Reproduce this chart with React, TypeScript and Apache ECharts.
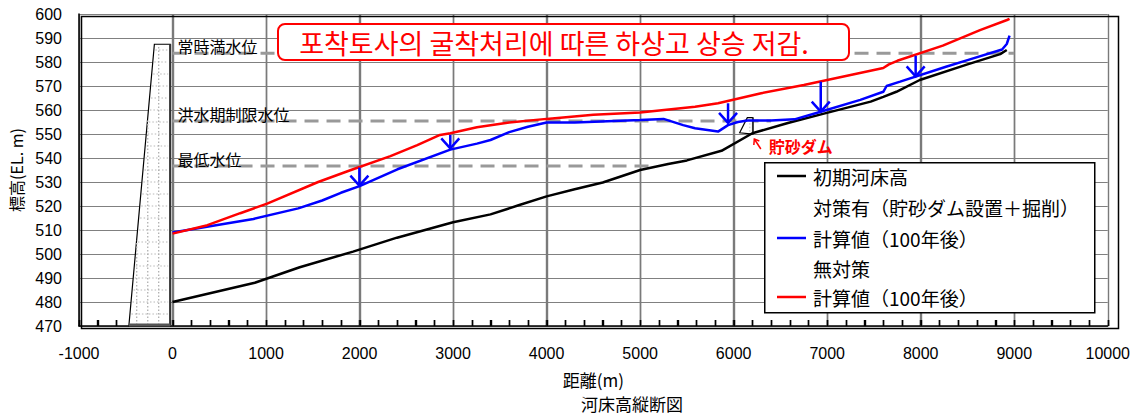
import React, { useEffect, useRef } from "react";
import * as echarts from "echarts";

// ---- axes ----
const X_MIN = -1000;
const X_MAX = 10000;
const X_STEP = 1000;
const X_MINOR_STEP = 200;
const Y_MIN = 470;
const Y_MAX = 600;
const Y_STEP = 10;

// ---- 初期河床高 ----
const bedX = [0, 880, 1360, 1930, 2400, 3000, 3400, 3700, 4000, 4300, 4600, 5000, 5300, 5500, 5870, 6200, 6580, 6975, 7465, 7600, 7740, 7990, 8500, 8850, 8920];
const bedY = [480, 488, 494.5, 501, 506.8, 513.2, 516.5, 520.3, 524, 527, 529.8, 535, 537.5, 539, 543, 550.3, 554.6, 558.6, 563.5, 565.5, 567.6, 572.5, 579, 583.3, 585];

// ---- 対策有 計算値（100年後） ----
const withX = [0, 865, 1344, 1600, 1800, 2000, 2405, 2970, 3255, 3400, 3600, 3800, 4000, 4300, 5000, 5250, 5460, 5587, 5833, 5940, 6045, 6150, 6400, 6650, 6930, 7354, 7600, 7635, 7780, 8270, 8500, 8870, 8920, 8950];
const withY = [509, 514.6, 519, 522.3, 525.5, 528.3, 535.3, 543.5, 546, 547.5, 550.8, 553, 554.8, 554.8, 555.8, 556.3, 553.7, 552.4, 551, 553.7, 555, 555.6, 555.6, 556.1, 559.3, 564.2, 567.6, 570, 571.8, 578, 580.8, 585.2, 587.5, 591];

// ---- 無対策 計算値（100年後） ----
const noX = [0, 373, 724, 1012, 1557, 1908, 2330, 2617, 2860, 2970, 3255, 3600, 4000, 4500, 5000, 5587, 5833, 6294, 6750, 7250, 7600, 7660, 7750, 8236, 8634, 8923, 8950];
const noY = [508.5, 512, 517, 521, 530, 535, 540.8, 545.4, 549.6, 550.3, 552.8, 554.8, 556.3, 558, 559, 561.4, 562.8, 567, 570.4, 574.6, 577.5, 579, 580.5, 586.8, 593.3, 597.5, 598];

// ---- water levels ----
const levelNames = ["常時満水位", "洪水期制限水位", "最低水位"];
const levelValues = [583.6, 555.4, 536.7];
const levelStart = [0, 0, 0];
const levelEnd = [9000, 6400, 5100];

// ---- arrows (reduction) ----
const arrowX = [1998, 2970, 5940, 6931, 7946];
const arrowTop = [536, 549.6, 562.8, 571.8, 582.6];
const arrowBottom = [528.5, 544, 554.6, 559.3, 574];

// ---- dams ----
const damX = [-467, -194, -25, -25];
const damY = [470, 587.4, 587.4, 470];
const sabodamX = [6064, 6146, 6205, 6205];
const sabodamY = [550.5, 556.8, 556.8, 550];
const sabodamLabel = "貯砂ダム";

// ---- legend / title ----
const legendLabels = ["初期河床高", "対策有（貯砂ダム設置＋掘削）", "計算値（100年後）", "無対策", "計算値（100年後）"];
const legendColors = ["#000000", "", "#0000FF", "", "#FF0000"];
const titleText = "포착토사의 굴착처리에 따른 하상고 상승 저감.";
const xName = "距離(m)";
const yName = "標高(EL. m)";
const caption = "河床高縦断図";

const JP = "'Noto Sans CJK JP', sans-serif";
const KR = "'Noto Sans CJK KR', sans-serif";
const NUM = "'Liberation Sans', Arial, sans-serif";

function zip(xs: number[], ys: number[]) {
  return xs.map((x, i) => [x, ys[i]]);
}

const xTickValues: number[] = [];
for (let v = X_MIN; v <= X_MAX; v += X_MINOR_STEP) xTickValues.push(v);

function renderDam(_params: any, api: any) {
  const pts = damX.map((x, i) => api.coord([x, damY[i]]));
  const [bl, tl, tr, br] = pts;
  const children: any[] = [
    { type: "polygon", shape: { points: pts }, style: { fill: "#ffffff", stroke: "#000", lineWidth: 1.2 } },
  ];
  for (let e = 475; e < 587; e += 5) {
    const y = api.coord([0, e])[1];
    const t = (bl[1] - y) / (bl[1] - tl[1]);
    const xl = bl[0] + t * (tl[0] - bl[0]);
    children.push({
      type: "line",
      shape: { x1: xl + 1.5, y1: y, x2: br[0] - 2, y2: y },
      style: { stroke: "#b8b8b8", lineWidth: 1, lineDash: [1.5, 2] },
    });
  }
  for (const vx of [-383, -265, -148]) {
    const x = api.coord([vx, 0])[0];
    const t = (x - bl[0]) / (tl[0] - bl[0]);
    const yTop = Math.max(tl[1], bl[1] - t * (bl[1] - tl[1]));
    children.push({
      type: "line",
      shape: { x1: x, y1: bl[1] - 1, x2: x, y2: yTop + 1.5 },
      style: { stroke: "#b0b0b0", lineWidth: 1.3, lineDash: [1.5, 2] },
    });
  }
  children.push({ type: "line", shape: { x1: tr[0], y1: tr[1], x2: br[0], y2: br[1] }, style: { stroke: "#333", lineWidth: 2 } });
  children.push({ type: "line", shape: { x1: bl[0], y1: bl[1] - 1, x2: br[0], y2: br[1] - 1 }, style: { stroke: "#555", lineWidth: 3 } });
  return { type: "group", children };
}

function renderSabodam(_params: any, api: any) {
  const pts = sabodamX.map((x, i) => api.coord([x, sabodamY[i]]));
  const br = pts[3];
  const tr = pts[2];
  const children: any[] = [
    { type: "polygon", shape: { points: pts }, style: { fill: "#ffffff", stroke: "#000", lineWidth: 1.2 } },
    { type: "line", shape: { x1: tr[0] - 3, y1: tr[1] + 2, x2: br[0] - 3, y2: br[1] - 1 }, style: { stroke: "#bbb", lineWidth: 1, lineDash: [1.5, 2] } },
    { type: "line", shape: { x1: tr[0], y1: tr[1], x2: br[0], y2: br[1] }, style: { stroke: "#333", lineWidth: 1.8 } },
    { type: "line", shape: { x1: br[0] + 1.5, y1: br[1] + 5, x2: br[0] + 8, y2: br[1] + 15 }, style: { stroke: "#FF0000", lineWidth: 1.5 } },
    { type: "polyline", shape: { points: [[br[0] + 1, br[1] + 11], [br[0] + 1.5, br[1] + 5], [br[0] + 6.5, br[1] + 7]] }, style: { stroke: "#FF0000", lineWidth: 1.5, fill: "none" } },
    {
      type: "text",
      x: br[0] + 16,
      y: br[1] + 12,
      style: { text: sabodamLabel, fill: "#FF0000", fontSize: 16, fontWeight: "bold", fontFamily: JP, align: "left", verticalAlign: "middle" },
    },
  ];
  return { type: "group", children };
}

function renderArrow(_params: any, api: any) {
  const x = api.value(0);
  const p1 = api.coord([x, api.value(1)]);
  const p2 = api.coord([x, api.value(2)]);
  return {
    type: "group",
    children: [
      { type: "line", shape: { x1: p1[0], y1: p1[1], x2: p2[0], y2: p2[1] }, style: { stroke: "#0000FF", lineWidth: 2.5 } },
      {
        type: "polyline",
        shape: { points: [[p2[0] - 9, p2[1] - 10], [p2[0], p2[1]], [p2[0] + 9, p2[1] - 10]] },
        style: { stroke: "#0000FF", lineWidth: 2.5, fill: "none" },
      },
    ],
  };
}

function renderLevelLabel(_params: any, api: any) {
  const p = api.coord([api.value(0), api.value(1)]);
  return {
    type: "text",
    x: p[0] + 5,
    y: p[1] + 1,
    style: { text: levelNames[api.value(2)], fill: "#000", fontSize: 16, fontFamily: JP, align: "left", verticalAlign: "bottom" },
  };
}

// vertical grid lines + inside ticks on the bottom axis
function renderXGrid(_params: any, api: any) {
  const v = api.value(0);
  const bottom = api.coord([v, Y_MIN]);
  const top = api.coord([v, Y_MAX]);
  const x = Math.round(bottom[0]) + 0.5;
  const children: any[] = [];
  const isMajor = Math.abs(v % X_STEP) < 1e-6;
  if (isMajor && v > X_MIN && v < X_MAX) {
    children.push({
      type: "line",
      shape: { x1: x, y1: bottom[1], x2: x, y2: top[1] },
      style: { stroke: "#7a7a7a", lineWidth: 1.4 },
    });
  }
  children.push({
    type: "line",
    shape: { x1: x, y1: bottom[1], x2: x, y2: bottom[1] - 6 },
    style: { stroke: "#000", lineWidth: 1.4 },
  });
  return { type: "group", children };
}

function buildOption() {
  const series: any[] = [];
  series.push({
    type: "custom", name: "xgrid", renderItem: renderXGrid,
    data: xTickValues.map((v) => [v, Y_MIN]), silent: true, z: 1, clip: false,
  });
  levelValues.forEach((v, i) => {
    series.push({
      type: "line",
      name: "level-" + i,
      data: [[levelStart[i], v], [levelEnd[i], v]],
      symbol: "none",
      silent: true,
      lineStyle: { color: "#999999", width: 3, type: [14, 8] },
      z: 1,
    });
  });
  series.push({ type: "custom", name: "dam", renderItem: renderDam, data: [[damX[0], damY[0]]], silent: true, z: 2 });
  series.push({ type: "custom", name: "sabodam", renderItem: renderSabodam, data: [[sabodamX[0], sabodamY[0]]], silent: true, z: 2 });
  series.push({
    type: "line", name: "初期河床高", data: zip(bedX, bedY), symbol: "none", lineStyle: { color: "#000000", width: 2.5 }, z: 3,
  });
  series.push({
    type: "line", name: "対策有 計算値（100年後）", data: zip(withX, withY), symbol: "none", lineStyle: { color: "#0000FF", width: 2.5 }, z: 3,
  });
  series.push({
    type: "line", name: "無対策 計算値（100年後）", data: zip(noX, noY), symbol: "none", lineStyle: { color: "#FF0000", width: 2.5 }, z: 3,
  });
  series.push({
    type: "custom", name: "arrows", renderItem: renderArrow,
    data: arrowX.map((x, i) => [x, arrowTop[i], arrowBottom[i]]),
    encode: { x: 0, y: [1, 2] }, silent: true, z: 4,
  });
  series.push({
    type: "custom", name: "levelLabels", renderItem: renderLevelLabel,
    data: levelValues.map((v, i) => [levelStart[i], v, i]),
    encode: { x: 0, y: 1 }, silent: true, z: 5,
  });

  const graphic: any[] = [];
  graphic.push({
    type: "rect", left: 79, top: 14, z: 50, silent: true,
    shape: { width: 1037, height: 312 },
    style: { fill: "none", stroke: "#000", lineWidth: 1.5 },
  });
  graphic.push({
    type: "rect", left: 277, top: 23, z: 100,
    shape: { width: 571, height: 36, r: 7 },
    style: { fill: "#ffffff", stroke: "#FF0000", lineWidth: 2 },
  });
  graphic.push({
    type: "text", x: 554, y: 42, z: 101,
    style: { text: titleText, fill: "#FF0000", fontSize: 27, fontFamily: KR, align: "center", verticalAlign: "middle" },
  });
  const lx = 764, ly = 162, lw = 330, lh = 150;
  graphic.push({
    type: "rect", left: lx, top: ly, z: 100,
    shape: { width: lw, height: lh },
    style: { fill: "#ffffff", stroke: "#000", lineWidth: 1.5 },
  });
  const rowY = [176, 207, 238, 268, 297];
  legendLabels.forEach((t, i) => {
    if (legendColors[i]) {
      graphic.push({
        type: "line", z: 101,
        shape: { x1: 777, y1: rowY[i], x2: 806, y2: rowY[i] },
        style: { stroke: legendColors[i], lineWidth: 2.5 },
      });
    }
    graphic.push({
      type: "text", x: 813, y: rowY[i], z: 101,
      style: { text: t, fill: "#000", fontSize: 19, fontFamily: JP, align: "left", verticalAlign: "middle" },
    });
  });
  graphic.push({
    type: "text", x: 632, y: 403, z: 101,
    style: { text: caption, fill: "#000", fontSize: 17, fontFamily: JP, align: "center", verticalAlign: "middle" },
  });

  return {
    animation: false,
    grid: {
      left: 79, right: 17, top: 14, bottom: 89,
      show: false,
    },
    xAxis: {
      type: "value", min: X_MIN, max: X_MAX, interval: X_STEP,
      axisLine: { show: true, onZero: false, lineStyle: { color: "#000", width: 1.5 } },
      axisTick: { show: true, inside: true, length: 6, lineStyle: { color: "#000", width: 1.4 } },
      minorTick: { show: true, splitNumber: 5, length: 6, lineStyle: { color: "#000", width: 1.4 } },
      axisLabel: { margin: 19, fontSize: 16, color: "#000", fontFamily: NUM, formatter: (v: number) => String(v) },
      splitLine: { show: true, lineStyle: { color: "#7a7a7a", width: 1.4 } },
      name: xName, nameLocation: "middle", nameGap: 45,
      nameTextStyle: { fontSize: 17, color: "#000", fontFamily: JP },
    },
    yAxis: {
      type: "value", min: Y_MIN, max: Y_MAX, interval: Y_STEP,
      axisLine: { show: true, onZero: false, lineStyle: { color: "#000", width: 1.5 } },
      axisTick: { show: false },
      axisLabel: { margin: 17, fontSize: 16, color: "#000", fontFamily: NUM, formatter: (v: number) => String(v) },
      splitLine: { show: true, lineStyle: { color: "#808080", width: 1 } },
      name: yName, nameLocation: "middle", nameRotate: 90, nameGap: 51,
      nameTextStyle: { fontSize: 16, color: "#000", fontFamily: JP },
    },
    series,
    graphic,
  };
}

export default function App() {
  const ref = useRef<HTMLDivElement>(null);
  useEffect(() => {
    if (!ref.current) return;
    const chart = echarts.init(ref.current, undefined, { renderer: "svg" });
    chart.setOption(buildOption() as any);
    return () => chart.dispose();
  }, []);
  return <div ref={ref} style={{ width: 1133, height: 415, position: "absolute", left: 0, top: 0 }} />;
}
